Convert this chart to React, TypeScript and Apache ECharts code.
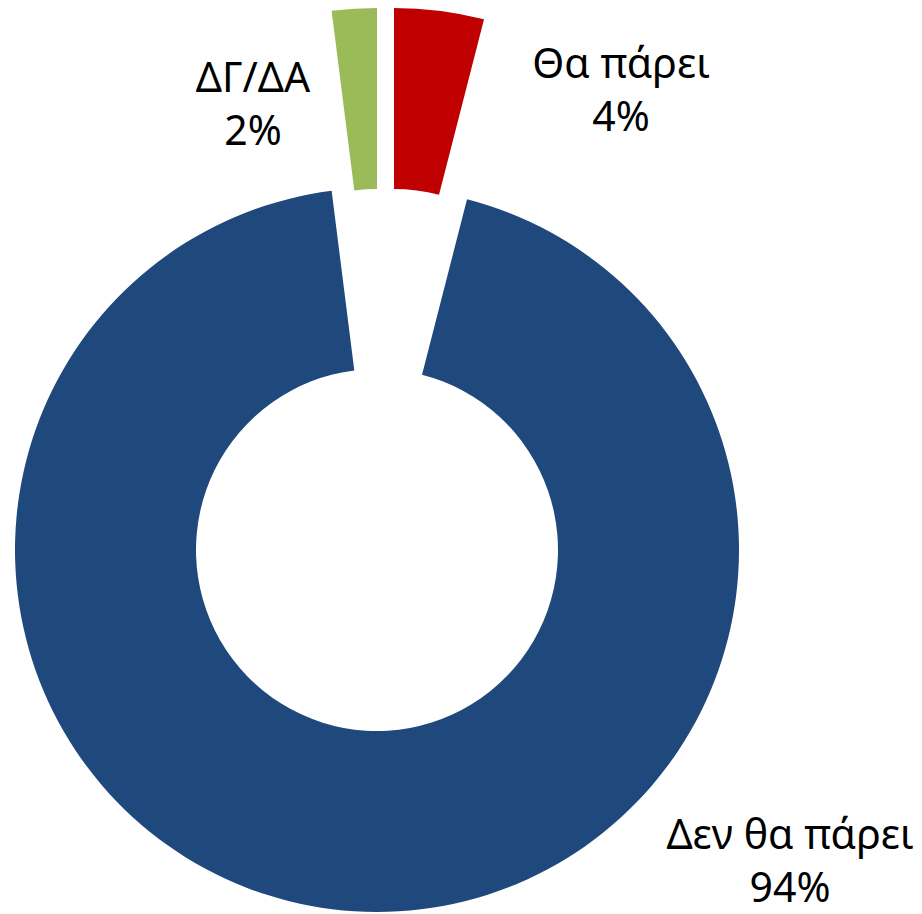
import React, { useEffect, useRef } from "react";
import * as echarts from "echarts";

// Data
const categories = ["Θα πάρει", "Δεν θα πάρει", "ΔΓ/ΔΑ"];
const values = [4, 94, 2];
const colors = ["#C00000", "#1F497D", "#9BBB59"];

// Layout (per slice: exploded centre and label anchor)
const sliceCenters: [number, number][] = [
  [394, 370],
  [377, 550],
  [377, 370],
];
const labelAnchors: [number, number][] = [
  [621, 88],
  [790, 859],
  [253, 102],
];

export default function App() {
  const ref = useRef<HTMLDivElement>(null);
  useEffect(() => {
    if (!ref.current) return;
    const chart = echarts.init(ref.current, undefined, { renderer: "svg" });
    const series = categories.map((_, k) => ({
      type: "pie",
      center: sliceCenters[k],
      radius: [181, 362],
      startAngle: 90,
      clockwise: true,
      silent: true,
      avoidLabelOverlap: false,
      labelLine: { show: false },
      label: {
        show: true,
        position: "outside",
        formatter: "{b}\n{d}%",
        fontFamily: "'Noto Sans', 'Open Sans', sans-serif",
        fontSize: 41,
        lineHeight: 53,
        color: "#000000",
        align: "center",
      },
      labelLayout: () => ({
        x: labelAnchors[k][0],
        y: labelAnchors[k][1],
        align: "center",
        verticalAlign: "middle",
      }),
      emphasis: { disabled: true },
      data: categories.map((name, i) => ({
        name,
        value: values[i],
        itemStyle: {
          color: i === k ? colors[k] : "rgba(0,0,0,0)",
          borderWidth: 0,
        },
        label: { show: i === k },
      })),
    }));
    chart.setOption({
      animation: false,
      backgroundColor: "#ffffff",
      series,
    });
    return () => chart.dispose();
  }, []);
  return (
    <div
      ref={ref}
      style={{ position: "absolute", left: 0, top: 0, width: 922, height: 914 }}
    />
  );
}
